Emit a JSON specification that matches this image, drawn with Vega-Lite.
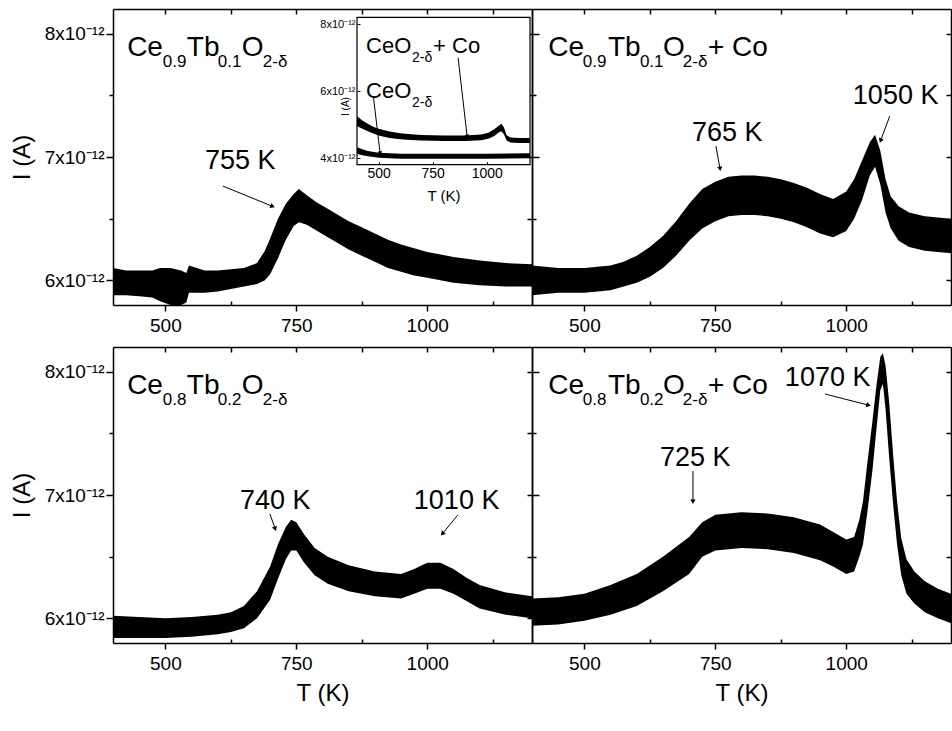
{
"$schema": "https://vega.github.io/schema/vega-lite/v6.json",
"padding": {"left": 10, "top": 8, "right": 0, "bottom": 5},
"background": "white",
"config": {"font": "Liberation Sans", "view": {"stroke": null},
  "axis": {"domainColor": "black", "tickColor": "black", "labelColor": "black", "titleColor": "black", "domainWidth": 1.5, "tickWidth": 1.5, "labelFont": "Liberation Sans", "titleFont": "Liberation Sans", "titleFontWeight": "normal", "grid": false, "format": "d"}},
"datasets": {
"band": [
{"p":"TL","T":400,"lo":5.88,"hi":6.10},{"p":"TL","T":425,"lo":5.88,"hi":6.08},{"p":"TL","T":450,"lo":5.87,"hi":6.08},{"p":"TL","T":475,"lo":5.86,"hi":6.08},{"p":"TL","T":490,"lo":5.83,"hi":6.10},{"p":"TL","T":510,"lo":5.80,"hi":6.10},{"p":"TL","T":530,"lo":5.80,"hi":6.08},{"p":"TL","T":540,"lo":5.82,"hi":6.06},{"p":"TL","T":545,"lo":5.90,"hi":6.12},{"p":"TL","T":575,"lo":5.90,"hi":6.08},{"p":"TL","T":600,"lo":5.91,"hi":6.08},{"p":"TL","T":625,"lo":5.93,"hi":6.09},{"p":"TL","T":650,"lo":5.95,"hi":6.10},{"p":"TL","T":675,"lo":5.97,"hi":6.14},{"p":"TL","T":690,"lo":6.00,"hi":6.24},{"p":"TL","T":700,"lo":6.05,"hi":6.34},{"p":"TL","T":715,"lo":6.18,"hi":6.50},{"p":"TL","T":730,"lo":6.33,"hi":6.62},{"p":"TL","T":745,"lo":6.44,"hi":6.70},{"p":"TL","T":755,"lo":6.47,"hi":6.74},{"p":"TL","T":770,"lo":6.45,"hi":6.69},{"p":"TL","T":790,"lo":6.40,"hi":6.63},{"p":"TL","T":810,"lo":6.35,"hi":6.58},{"p":"TL","T":830,"lo":6.30,"hi":6.53},{"p":"TL","T":850,"lo":6.25,"hi":6.48},{"p":"TL","T":875,"lo":6.20,"hi":6.43},{"p":"TL","T":900,"lo":6.15,"hi":6.38},{"p":"TL","T":925,"lo":6.10,"hi":6.33},{"p":"TL","T":950,"lo":6.07,"hi":6.29},{"p":"TL","T":975,"lo":6.04,"hi":6.26},{"p":"TL","T":1000,"lo":6.02,"hi":6.23},{"p":"TL","T":1050,"lo":5.98,"hi":6.19},{"p":"TL","T":1100,"lo":5.96,"hi":6.16},{"p":"TL","T":1150,"lo":5.95,"hi":6.14},{"p":"TL","T":1200,"lo":5.95,"hi":6.13},
{"p":"TR","T":400,"lo":5.88,"hi":6.12},{"p":"TR","T":450,"lo":5.90,"hi":6.10},{"p":"TR","T":500,"lo":5.90,"hi":6.10},{"p":"TR","T":550,"lo":5.92,"hi":6.12},{"p":"TR","T":575,"lo":5.95,"hi":6.15},{"p":"TR","T":600,"lo":5.98,"hi":6.20},{"p":"TR","T":625,"lo":6.03,"hi":6.27},{"p":"TR","T":650,"lo":6.10,"hi":6.36},{"p":"TR","T":675,"lo":6.20,"hi":6.48},{"p":"TR","T":700,"lo":6.32,"hi":6.62},{"p":"TR","T":725,"lo":6.42,"hi":6.74},{"p":"TR","T":750,"lo":6.48,"hi":6.80},{"p":"TR","T":775,"lo":6.52,"hi":6.84},{"p":"TR","T":800,"lo":6.53,"hi":6.85},{"p":"TR","T":825,"lo":6.53,"hi":6.85},{"p":"TR","T":850,"lo":6.52,"hi":6.84},{"p":"TR","T":875,"lo":6.50,"hi":6.82},{"p":"TR","T":900,"lo":6.47,"hi":6.79},{"p":"TR","T":925,"lo":6.43,"hi":6.75},{"p":"TR","T":950,"lo":6.38,"hi":6.70},{"p":"TR","T":975,"lo":6.35,"hi":6.66},{"p":"TR","T":1000,"lo":6.40,"hi":6.72},{"p":"TR","T":1015,"lo":6.50,"hi":6.82},{"p":"TR","T":1030,"lo":6.65,"hi":6.97},{"p":"TR","T":1045,"lo":6.85,"hi":7.12},{"p":"TR","T":1055,"lo":6.92,"hi":7.18},{"p":"TR","T":1065,"lo":6.78,"hi":7.05},{"p":"TR","T":1075,"lo":6.55,"hi":6.82},{"p":"TR","T":1085,"lo":6.42,"hi":6.68},{"p":"TR","T":1100,"lo":6.32,"hi":6.60},{"p":"TR","T":1120,"lo":6.27,"hi":6.55},{"p":"TR","T":1150,"lo":6.24,"hi":6.52},{"p":"TR","T":1200,"lo":6.22,"hi":6.50},
{"p":"BL","T":400,"lo":5.84,"hi":6.02},{"p":"BL","T":450,"lo":5.84,"hi":6.01},{"p":"BL","T":500,"lo":5.84,"hi":6.00},{"p":"BL","T":550,"lo":5.85,"hi":6.01},{"p":"BL","T":600,"lo":5.87,"hi":6.03},{"p":"BL","T":625,"lo":5.89,"hi":6.05},{"p":"BL","T":650,"lo":5.92,"hi":6.10},{"p":"BL","T":675,"lo":6.00,"hi":6.22},{"p":"BL","T":700,"lo":6.15,"hi":6.42},{"p":"BL","T":715,"lo":6.32,"hi":6.60},{"p":"BL","T":730,"lo":6.48,"hi":6.74},{"p":"BL","T":740,"lo":6.55,"hi":6.80},{"p":"BL","T":750,"lo":6.55,"hi":6.78},{"p":"BL","T":765,"lo":6.45,"hi":6.68},{"p":"BL","T":785,"lo":6.35,"hi":6.57},{"p":"BL","T":810,"lo":6.28,"hi":6.50},{"p":"BL","T":850,"lo":6.22,"hi":6.43},{"p":"BL","T":900,"lo":6.18,"hi":6.38},{"p":"BL","T":950,"lo":6.16,"hi":6.36},{"p":"BL","T":975,"lo":6.20,"hi":6.40},{"p":"BL","T":1000,"lo":6.24,"hi":6.45},{"p":"BL","T":1025,"lo":6.24,"hi":6.45},{"p":"BL","T":1050,"lo":6.20,"hi":6.40},{"p":"BL","T":1075,"lo":6.14,"hi":6.33},{"p":"BL","T":1100,"lo":6.08,"hi":6.27},{"p":"BL","T":1150,"lo":6.03,"hi":6.21},{"p":"BL","T":1200,"lo":6.00,"hi":6.18},
{"p":"BR","T":400,"lo":5.94,"hi":6.16},{"p":"BR","T":450,"lo":5.95,"hi":6.17},{"p":"BR","T":500,"lo":5.98,"hi":6.20},{"p":"BR","T":550,"lo":6.03,"hi":6.27},{"p":"BR","T":600,"lo":6.10,"hi":6.36},{"p":"BR","T":650,"lo":6.22,"hi":6.50},{"p":"BR","T":700,"lo":6.36,"hi":6.66},{"p":"BR","T":725,"lo":6.50,"hi":6.78},{"p":"BR","T":750,"lo":6.55,"hi":6.84},{"p":"BR","T":800,"lo":6.57,"hi":6.86},{"p":"BR","T":850,"lo":6.56,"hi":6.85},{"p":"BR","T":900,"lo":6.53,"hi":6.82},{"p":"BR","T":950,"lo":6.47,"hi":6.76},{"p":"BR","T":975,"lo":6.42,"hi":6.70},{"p":"BR","T":1000,"lo":6.36,"hi":6.64},{"p":"BR","T":1015,"lo":6.38,"hi":6.66},{"p":"BR","T":1025,"lo":6.50,"hi":6.80},{"p":"BR","T":1032,"lo":6.60,"hi":6.95},{"p":"BR","T":1040,"lo":6.85,"hi":7.25},{"p":"BR","T":1050,"lo":7.20,"hi":7.60},{"p":"BR","T":1058,"lo":7.55,"hi":7.90},{"p":"BR","T":1065,"lo":7.85,"hi":8.12},{"p":"BR","T":1070,"lo":7.90,"hi":8.15},{"p":"BR","T":1075,"lo":7.70,"hi":8.05},{"p":"BR","T":1082,"lo":7.30,"hi":7.75},{"p":"BR","T":1090,"lo":6.90,"hi":7.30},{"p":"BR","T":1097,"lo":6.60,"hi":6.95},{"p":"BR","T":1105,"lo":6.35,"hi":6.65},{"p":"BR","T":1115,"lo":6.20,"hi":6.48},{"p":"BR","T":1130,"lo":6.12,"hi":6.38},{"p":"BR","T":1150,"lo":6.05,"hi":6.30},{"p":"BR","T":1175,"lo":6.00,"hi":6.24},{"p":"BR","T":1200,"lo":5.96,"hi":6.20}
],
"lab": [
{"p":"TL","T":427,"I":7.82,"t":"Ce"},{"p":"TL","T":541,"I":7.82,"t":"Tb"},{"p":"TL","T":646,"I":7.82,"t":"O"},
{"p":"TR","T":431,"I":7.82,"t":"Ce"},{"p":"TR","T":545,"I":7.82,"t":"Tb"},{"p":"TR","T":650,"I":7.82,"t":"O"},{"p":"TR","T":736,"I":7.82,"t":"+ Co"},
{"p":"BL","T":427,"I":7.82,"t":"Ce"},{"p":"BL","T":541,"I":7.82,"t":"Tb"},{"p":"BL","T":646,"I":7.82,"t":"O"},
{"p":"BR","T":431,"I":7.82,"t":"Ce"},{"p":"BR","T":545,"I":7.82,"t":"Tb"},{"p":"BR","T":650,"I":7.82,"t":"O"},{"p":"BR","T":736,"I":7.82,"t":"+ Co"}
],
"sub": [
{"p":"TL","T":495,"I":7.82,"t":"0.9"},{"p":"TL","T":600,"I":7.82,"t":"0.1"},{"p":"TL","T":686,"I":7.82,"t":"2-δ"},
{"p":"TR","T":497,"I":7.82,"t":"0.9"},{"p":"TR","T":606,"I":7.82,"t":"0.1"},{"p":"TR","T":688,"I":7.82,"t":"2-δ"},
{"p":"BL","T":495,"I":7.82,"t":"0.8"},{"p":"BL","T":600,"I":7.82,"t":"0.2"},{"p":"BL","T":686,"I":7.82,"t":"2-δ"},
{"p":"BR","T":497,"I":7.82,"t":"0.8"},{"p":"BR","T":606,"I":7.82,"t":"0.2"},{"p":"BR","T":688,"I":7.82,"t":"2-δ"}
],
"ann": [
{"p":"TL","T":575.6,"I":6.90,"t":"755 K"},
{"p":"TR","T":705.3,"I":7.13,"t":"765 K"},{"p":"TR","T":1012.6,"I":7.43,"t":"1050 K"},
{"p":"BL","T":642.4,"I":6.886,"t":"740 K"},{"p":"BL","T":974.4,"I":6.886,"t":"1010 K"},
{"p":"BR","T":644.3,"I":7.235,"t":"725 K"},{"p":"BR","T":882.8,"I":7.884,"t":"1070 K"}
],
"arr": [
{"p":"TL","T":609.9,"I":6.764,"T2":703.4,"I2":6.602,"a":112},
{"p":"TR","T":751.1,"I":7.089,"T2":758.8,"I2":6.91,"a":170},
{"p":"TR","T":1083.2,"I":7.332,"T2":1066,"I2":7.138,"a":201},
{"p":"BL","T":699.6,"I":6.846,"T2":709.2,"I2":6.732,"a":160},
{"p":"BL","T":1058.4,"I":6.837,"T2":1029.8,"I2":6.691,"a":220},
{"p":"BR","T":707.3,"I":7.194,"T2":707.3,"I2":6.951,"a":180},
{"p":"BR","T":959.2,"I":7.819,"T2":1041.2,"I2":7.73,"a":104}
],
"insFrame": [{"T":400,"T2":1200,"lo":3.8,"hi":8.2}],
"ins": [
{"s":"a","T":400,"lo":4.95,"hi":5.25},{"s":"a","T":425,"lo":4.87,"hi":5.12},{"s":"a","T":450,"lo":4.80,"hi":5.02},{"s":"a","T":475,"lo":4.73,"hi":4.93},{"s":"a","T":500,"lo":4.67,"hi":4.87},{"s":"a","T":550,"lo":4.60,"hi":4.79},{"s":"a","T":600,"lo":4.56,"hi":4.74},{"s":"a","T":650,"lo":4.54,"hi":4.71},{"s":"a","T":700,"lo":4.52,"hi":4.69},{"s":"a","T":800,"lo":4.51,"hi":4.67},{"s":"a","T":900,"lo":4.51,"hi":4.67},{"s":"a","T":975,"lo":4.53,"hi":4.70},{"s":"a","T":1010,"lo":4.58,"hi":4.76},{"s":"a","T":1035,"lo":4.66,"hi":4.86},{"s":"a","T":1055,"lo":4.76,"hi":4.96},{"s":"a","T":1068,"lo":4.80,"hi":5.02},{"s":"a","T":1080,"lo":4.70,"hi":4.90},{"s":"a","T":1092,"lo":4.52,"hi":4.68},{"s":"a","T":1110,"lo":4.46,"hi":4.61},{"s":"a","T":1150,"lo":4.45,"hi":4.60},{"s":"a","T":1200,"lo":4.45,"hi":4.60},
{"s":"b","T":400,"lo":4.12,"hi":4.32},{"s":"b","T":425,"lo":4.08,"hi":4.26},{"s":"b","T":450,"lo":4.05,"hi":4.21},{"s":"b","T":500,"lo":4.01,"hi":4.16},{"s":"b","T":550,"lo":3.99,"hi":4.14},{"s":"b","T":600,"lo":3.98,"hi":4.13},{"s":"b","T":800,"lo":3.98,"hi":4.13},{"s":"b","T":1000,"lo":3.98,"hi":4.13},{"s":"b","T":1200,"lo":3.99,"hi":4.14}
],
"insLab": [{"T":441.7,"I":7.13,"t":"CeO"},{"T":751.9,"I":7.13,"t":"+ Co"},{"T":441.7,"I":5.79,"t":"CeO"}],
"insSub": [{"T":654.6,"I":7.13,"t":"2-δ"},{"T":654.6,"I":5.79,"t":"2-δ"}],
"insArr": [{"T":867.6,"I":6.99,"T2":909,"I2":4.66,"a":173},{"T":475.5,"I":5.85,"T2":506.5,"I2":4.16,"a":173}]
},
"concat": [
{
 "width": 419, "height": 296,
 "layer": [
  {"layer": [
   {"data": {"name": "band"}, "transform": [{"filter": "datum.p == 'TL'"}], "mark": {"type": "area", "color": "black", "clip": true},
    "encoding": {"x": {"field": "T", "type": "quantitative", "scale": {"domain": [400, 1200], "nice": false}, "axis": {"orient": "bottom", "values": [500, 750, 1000], "labelFontSize": 19, "tickSize": 6, "labelPadding": 5, "title": null}},
     "y": {"field": "hi", "type": "quantitative", "scale": {"domain": [5.8, 8.2], "nice": false, "zero": false}, "axis": {"orient": "left", "values": [6, 7, 8], "labelExpr": "datum.value + 'x10⁻¹²'", "labelFontSize": 19, "tickSize": 7, "labelPadding": 2, "title": "I (A)", "titleFontSize": 24, "titleX": -91, "titleY": 148, "titleAngle": -90, "titleBaseline": "middle"}},
     "y2": {"field": "lo"}}},
   {"data": {"name": "lab"}, "transform": [{"filter": "datum.p == 'TL'"}], "mark": {"type": "text", "fontSize": 28, "align": "left", "baseline": "alphabetic", "color": "black"},
    "encoding": {"x": {"field": "T", "type": "quantitative", "axis": {"orient": "top", "values": [500, 625, 750, 875, 1000, 1125], "labels": false, "tickSize": -5, "title": null}}, "y": {"field": "I", "type": "quantitative", "axis": {"orient": "right", "values": [6, 6.5, 7, 7.5, 8], "labels": false, "tickSize": -5, "title": null}}, "text": {"field": "t"}}},
   {"data": {"name": "sub"}, "transform": [{"filter": "datum.p == 'TL'"}], "mark": {"type": "text", "fontSize": 17, "dy": 11, "align": "left", "baseline": "alphabetic", "color": "black"},
    "encoding": {"x": {"field": "T", "type": "quantitative", "axis": null}, "y": {"field": "I", "type": "quantitative", "axis": null}, "text": {"field": "t"}}},
   {"data": {"name": "ann"}, "transform": [{"filter": "datum.p == 'TL'"}], "mark": {"type": "text", "fontSize": 27, "align": "left", "baseline": "alphabetic", "color": "black"},
    "encoding": {"x": {"field": "T", "type": "quantitative", "axis": null}, "y": {"field": "I", "type": "quantitative", "axis": null}, "text": {"field": "t"}}},
   {"data": {"name": "arr"}, "transform": [{"filter": "datum.p == 'TL'"}], "mark": {"type": "rule", "color": "black", "strokeWidth": 1},
    "encoding": {"x": {"field": "T", "type": "quantitative", "axis": {"orient": "bottom", "values": [625, 875, 1125], "labels": false, "domain": false, "tickSize": -4, "title": null}}, "y": {"field": "I", "type": "quantitative", "axis": {"orient": "left", "values": [6.5, 7.5], "labels": false, "domain": false, "tickSize": 4, "title": null}}, "x2": {"field": "T2"}, "y2": {"field": "I2"}}},
   {"data": {"name": "arr"}, "transform": [{"filter": "datum.p == 'TL'"}], "mark": {"type": "point", "shape": "triangle", "filled": true, "size": 28, "color": "black", "opacity": 1},
    "encoding": {"x": {"field": "T2", "type": "quantitative", "axis": null}, "y": {"field": "I2", "type": "quantitative", "axis": null}, "angle": {"field": "a", "type": "quantitative", "scale": null}}}
  ], "resolve": {"axis": {"x": "independent", "y": "independent"}}},
  {"layer": [
   {"data": {"name": "insFrame"}, "mark": {"type": "rect", "fill": "white", "stroke": "black", "strokeWidth": 1.2},
    "encoding": {"x": {"field": "T", "type": "quantitative", "scale": {"domain": [400, 1200], "range": [244, 417], "nice": false}, "axis": {"orient": "bottom", "offset": -140.3, "values": [500, 750, 1000], "labelFontSize": 14, "tickSize": -3, "tickWidth": 1, "labelPadding": 5, "domain": false, "zindex": 1, "title": "T (K)", "titleFontSize": 15, "titleY": 31, "titleBaseline": "middle"}},
     "x2": {"field": "T2"},
     "y": {"field": "lo", "type": "quantitative", "scale": {"domain": [3.8, 8.2], "range": [155.7, 8.3], "nice": false, "zero": false}, "axis": {"orient": "left", "offset": -244, "values": [4, 6, 8], "labelExpr": "datum.value + 'x10⁻¹²'", "labelFontSize": 11, "tickSize": -3, "tickWidth": 1, "labelPadding": 5, "domain": false, "zindex": 1, "title": "I (A)", "titleFontSize": 10, "titleX": -12, "titleY": 97, "titleAngle": -90, "titleBaseline": "middle"}},
     "y2": {"field": "hi"}}},
   {"data": {"name": "ins"}, "mark": {"type": "area", "color": "black"},
    "encoding": {"x": {"field": "T", "type": "quantitative", "axis": null}, "y": {"field": "hi", "type": "quantitative", "axis": null}, "y2": {"field": "lo"}, "detail": {"field": "s"}}},
   {"data": {"name": "insLab"}, "mark": {"type": "text", "fontSize": 22, "align": "left", "baseline": "alphabetic", "color": "black"},
    "encoding": {"x": {"field": "T", "type": "quantitative", "axis": null}, "y": {"field": "I", "type": "quantitative", "axis": null}, "text": {"field": "t"}}},
   {"data": {"name": "insSub"}, "mark": {"type": "text", "fontSize": 14, "dy": 9, "align": "left", "baseline": "alphabetic", "color": "black"},
    "encoding": {"x": {"field": "T", "type": "quantitative", "axis": null}, "y": {"field": "I", "type": "quantitative", "axis": null}, "text": {"field": "t"}}},
   {"data": {"name": "insArr"}, "mark": {"type": "rule", "color": "black", "strokeWidth": 1},
    "encoding": {"x": {"field": "T", "type": "quantitative", "axis": null}, "y": {"field": "I", "type": "quantitative", "axis": null}, "x2": {"field": "T2"}, "y2": {"field": "I2"}}},
   {"data": {"name": "insArr"}, "mark": {"type": "point", "shape": "triangle", "filled": true, "size": 20, "color": "black", "opacity": 1},
    "encoding": {"x": {"field": "T2", "type": "quantitative", "axis": null}, "y": {"field": "I2", "type": "quantitative", "axis": null}, "angle": {"field": "a", "type": "quantitative", "scale": null}}}
  ], "resolve": {"axis": {"x": "independent", "y": "independent"}}}
 ],
 "resolve": {"scale": {"x": "independent", "y": "independent"}, "axis": {"x": "independent", "y": "independent"}}
},
{
 "width": 419, "height": 296,
 "layer": [
   {"data": {"name": "band"}, "transform": [{"filter": "datum.p == 'TR'"}], "mark": {"type": "area", "color": "black", "clip": true},
    "encoding": {"x": {"field": "T", "type": "quantitative", "scale": {"domain": [400, 1200], "nice": false}, "axis": {"orient": "bottom", "values": [500, 750, 1000], "labelFontSize": 19, "tickSize": 6, "labelPadding": 5, "title": null}},
     "y": {"field": "hi", "type": "quantitative", "scale": {"domain": [5.8, 8.2], "nice": false, "zero": false}, "axis": {"orient": "left", "values": [6, 7, 8], "labels": false, "tickSize": -7, "title": null}},
     "y2": {"field": "lo"}}},
   {"data": {"name": "lab"}, "transform": [{"filter": "datum.p == 'TR'"}], "mark": {"type": "text", "fontSize": 28, "align": "left", "baseline": "alphabetic", "color": "black"},
    "encoding": {"x": {"field": "T", "type": "quantitative", "axis": {"orient": "top", "values": [500, 625, 750, 875, 1000, 1125], "labels": false, "tickSize": -5, "title": null}}, "y": {"field": "I", "type": "quantitative", "axis": {"orient": "right", "values": [6, 6.5, 7, 7.5, 8], "labels": false, "tickSize": -5, "title": null}}, "text": {"field": "t"}}},
   {"data": {"name": "sub"}, "transform": [{"filter": "datum.p == 'TR'"}], "mark": {"type": "text", "fontSize": 17, "dy": 11, "align": "left", "baseline": "alphabetic", "color": "black"},
    "encoding": {"x": {"field": "T", "type": "quantitative", "axis": null}, "y": {"field": "I", "type": "quantitative", "axis": null}, "text": {"field": "t"}}},
   {"data": {"name": "ann"}, "transform": [{"filter": "datum.p == 'TR'"}], "mark": {"type": "text", "fontSize": 27, "align": "left", "baseline": "alphabetic", "color": "black"},
    "encoding": {"x": {"field": "T", "type": "quantitative", "axis": null}, "y": {"field": "I", "type": "quantitative", "axis": null}, "text": {"field": "t"}}},
   {"data": {"name": "arr"}, "transform": [{"filter": "datum.p == 'TR'"}], "mark": {"type": "rule", "color": "black", "strokeWidth": 1},
    "encoding": {"x": {"field": "T", "type": "quantitative", "axis": {"orient": "bottom", "values": [625, 875, 1125], "labels": false, "domain": false, "tickSize": -4, "title": null}}, "y": {"field": "I", "type": "quantitative", "axis": {"orient": "left", "values": [6.5, 7.5], "labels": false, "domain": false, "tickSize": -4, "title": null}}, "x2": {"field": "T2"}, "y2": {"field": "I2"}}},
   {"data": {"name": "arr"}, "transform": [{"filter": "datum.p == 'TR'"}], "mark": {"type": "point", "shape": "triangle", "filled": true, "size": 28, "color": "black", "opacity": 1},
    "encoding": {"x": {"field": "T2", "type": "quantitative", "axis": null}, "y": {"field": "I2", "type": "quantitative", "axis": null}, "angle": {"field": "a", "type": "quantitative", "scale": null}}}
 ],
 "resolve": {"axis": {"x": "independent", "y": "independent"}}
},
{
 "width": 419, "height": 296,
 "layer": [
   {"data": {"name": "band"}, "transform": [{"filter": "datum.p == 'BL'"}], "mark": {"type": "area", "color": "black", "clip": true},
    "encoding": {"x": {"field": "T", "type": "quantitative", "scale": {"domain": [400, 1200], "nice": false}, "axis": {"orient": "bottom", "values": [500, 750, 1000], "labelFontSize": 19, "tickSize": 6, "labelPadding": 5, "title": "T (K)", "titleFontSize": 24, "titleY": 50, "titleBaseline": "middle"}},
     "y": {"field": "hi", "type": "quantitative", "scale": {"domain": [5.8, 8.2], "nice": false, "zero": false}, "axis": {"orient": "left", "values": [6, 7, 8], "labelExpr": "datum.value + 'x10⁻¹²'", "labelFontSize": 19, "tickSize": 7, "labelPadding": 2, "title": "I (A)", "titleFontSize": 24, "titleX": -91, "titleY": 148, "titleAngle": -90, "titleBaseline": "middle"}},
     "y2": {"field": "lo"}}},
   {"data": {"name": "lab"}, "transform": [{"filter": "datum.p == 'BL'"}], "mark": {"type": "text", "fontSize": 28, "align": "left", "baseline": "alphabetic", "color": "black"},
    "encoding": {"x": {"field": "T", "type": "quantitative", "axis": {"orient": "top", "values": [500, 625, 750, 875, 1000, 1125], "labels": false, "tickSize": -5, "title": null}}, "y": {"field": "I", "type": "quantitative", "axis": {"orient": "right", "values": [6, 6.5, 7, 7.5, 8], "labels": false, "tickSize": -5, "title": null}}, "text": {"field": "t"}}},
   {"data": {"name": "sub"}, "transform": [{"filter": "datum.p == 'BL'"}], "mark": {"type": "text", "fontSize": 17, "dy": 11, "align": "left", "baseline": "alphabetic", "color": "black"},
    "encoding": {"x": {"field": "T", "type": "quantitative", "axis": null}, "y": {"field": "I", "type": "quantitative", "axis": null}, "text": {"field": "t"}}},
   {"data": {"name": "ann"}, "transform": [{"filter": "datum.p == 'BL'"}], "mark": {"type": "text", "fontSize": 27, "align": "left", "baseline": "alphabetic", "color": "black"},
    "encoding": {"x": {"field": "T", "type": "quantitative", "axis": null}, "y": {"field": "I", "type": "quantitative", "axis": null}, "text": {"field": "t"}}},
   {"data": {"name": "arr"}, "transform": [{"filter": "datum.p == 'BL'"}], "mark": {"type": "rule", "color": "black", "strokeWidth": 1},
    "encoding": {"x": {"field": "T", "type": "quantitative", "axis": {"orient": "bottom", "values": [625, 875, 1125], "labels": false, "domain": false, "tickSize": -4, "title": null}}, "y": {"field": "I", "type": "quantitative", "axis": {"orient": "left", "values": [6.5, 7.5], "labels": false, "domain": false, "tickSize": 4, "title": null}}, "x2": {"field": "T2"}, "y2": {"field": "I2"}}},
   {"data": {"name": "arr"}, "transform": [{"filter": "datum.p == 'BL'"}], "mark": {"type": "point", "shape": "triangle", "filled": true, "size": 28, "color": "black", "opacity": 1},
    "encoding": {"x": {"field": "T2", "type": "quantitative", "axis": null}, "y": {"field": "I2", "type": "quantitative", "axis": null}, "angle": {"field": "a", "type": "quantitative", "scale": null}}}
 ],
 "resolve": {"axis": {"x": "independent", "y": "independent"}}
},
{
 "width": 419, "height": 296,
 "layer": [
   {"data": {"name": "band"}, "transform": [{"filter": "datum.p == 'BR'"}], "mark": {"type": "area", "color": "black", "clip": true},
    "encoding": {"x": {"field": "T", "type": "quantitative", "scale": {"domain": [400, 1200], "nice": false}, "axis": {"orient": "bottom", "values": [500, 750, 1000], "labelFontSize": 19, "tickSize": 6, "labelPadding": 5, "title": "T (K)", "titleFontSize": 24, "titleY": 50, "titleBaseline": "middle"}},
     "y": {"field": "hi", "type": "quantitative", "scale": {"domain": [5.8, 8.2], "nice": false, "zero": false}, "axis": {"orient": "left", "values": [6, 7, 8], "labels": false, "tickSize": -7, "title": null}},
     "y2": {"field": "lo"}}},
   {"data": {"name": "lab"}, "transform": [{"filter": "datum.p == 'BR'"}], "mark": {"type": "text", "fontSize": 28, "align": "left", "baseline": "alphabetic", "color": "black"},
    "encoding": {"x": {"field": "T", "type": "quantitative", "axis": {"orient": "top", "values": [500, 625, 750, 875, 1000, 1125], "labels": false, "tickSize": -5, "title": null}}, "y": {"field": "I", "type": "quantitative", "axis": {"orient": "right", "values": [6, 6.5, 7, 7.5, 8], "labels": false, "tickSize": -5, "title": null}}, "text": {"field": "t"}}},
   {"data": {"name": "sub"}, "transform": [{"filter": "datum.p == 'BR'"}], "mark": {"type": "text", "fontSize": 17, "dy": 11, "align": "left", "baseline": "alphabetic", "color": "black"},
    "encoding": {"x": {"field": "T", "type": "quantitative", "axis": null}, "y": {"field": "I", "type": "quantitative", "axis": null}, "text": {"field": "t"}}},
   {"data": {"name": "ann"}, "transform": [{"filter": "datum.p == 'BR'"}], "mark": {"type": "text", "fontSize": 27, "align": "left", "baseline": "alphabetic", "color": "black"},
    "encoding": {"x": {"field": "T", "type": "quantitative", "axis": null}, "y": {"field": "I", "type": "quantitative", "axis": null}, "text": {"field": "t"}}},
   {"data": {"name": "arr"}, "transform": [{"filter": "datum.p == 'BR'"}], "mark": {"type": "rule", "color": "black", "strokeWidth": 1},
    "encoding": {"x": {"field": "T", "type": "quantitative", "axis": {"orient": "bottom", "values": [625, 875, 1125], "labels": false, "domain": false, "tickSize": -4, "title": null}}, "y": {"field": "I", "type": "quantitative", "axis": {"orient": "left", "values": [6.5, 7.5], "labels": false, "domain": false, "tickSize": -4, "title": null}}, "x2": {"field": "T2"}, "y2": {"field": "I2"}}},
   {"data": {"name": "arr"}, "transform": [{"filter": "datum.p == 'BR'"}], "mark": {"type": "point", "shape": "triangle", "filled": true, "size": 28, "color": "black", "opacity": 1},
    "encoding": {"x": {"field": "T2", "type": "quantitative", "axis": null}, "y": {"field": "I2", "type": "quantitative", "axis": null}, "angle": {"field": "a", "type": "quantitative", "scale": null}}}
 ],
 "resolve": {"axis": {"x": "independent", "y": "independent"}}
}
],
"columns": 2,
"spacing": {"row": 42, "column": 0},
"bounds": "flush"
}
